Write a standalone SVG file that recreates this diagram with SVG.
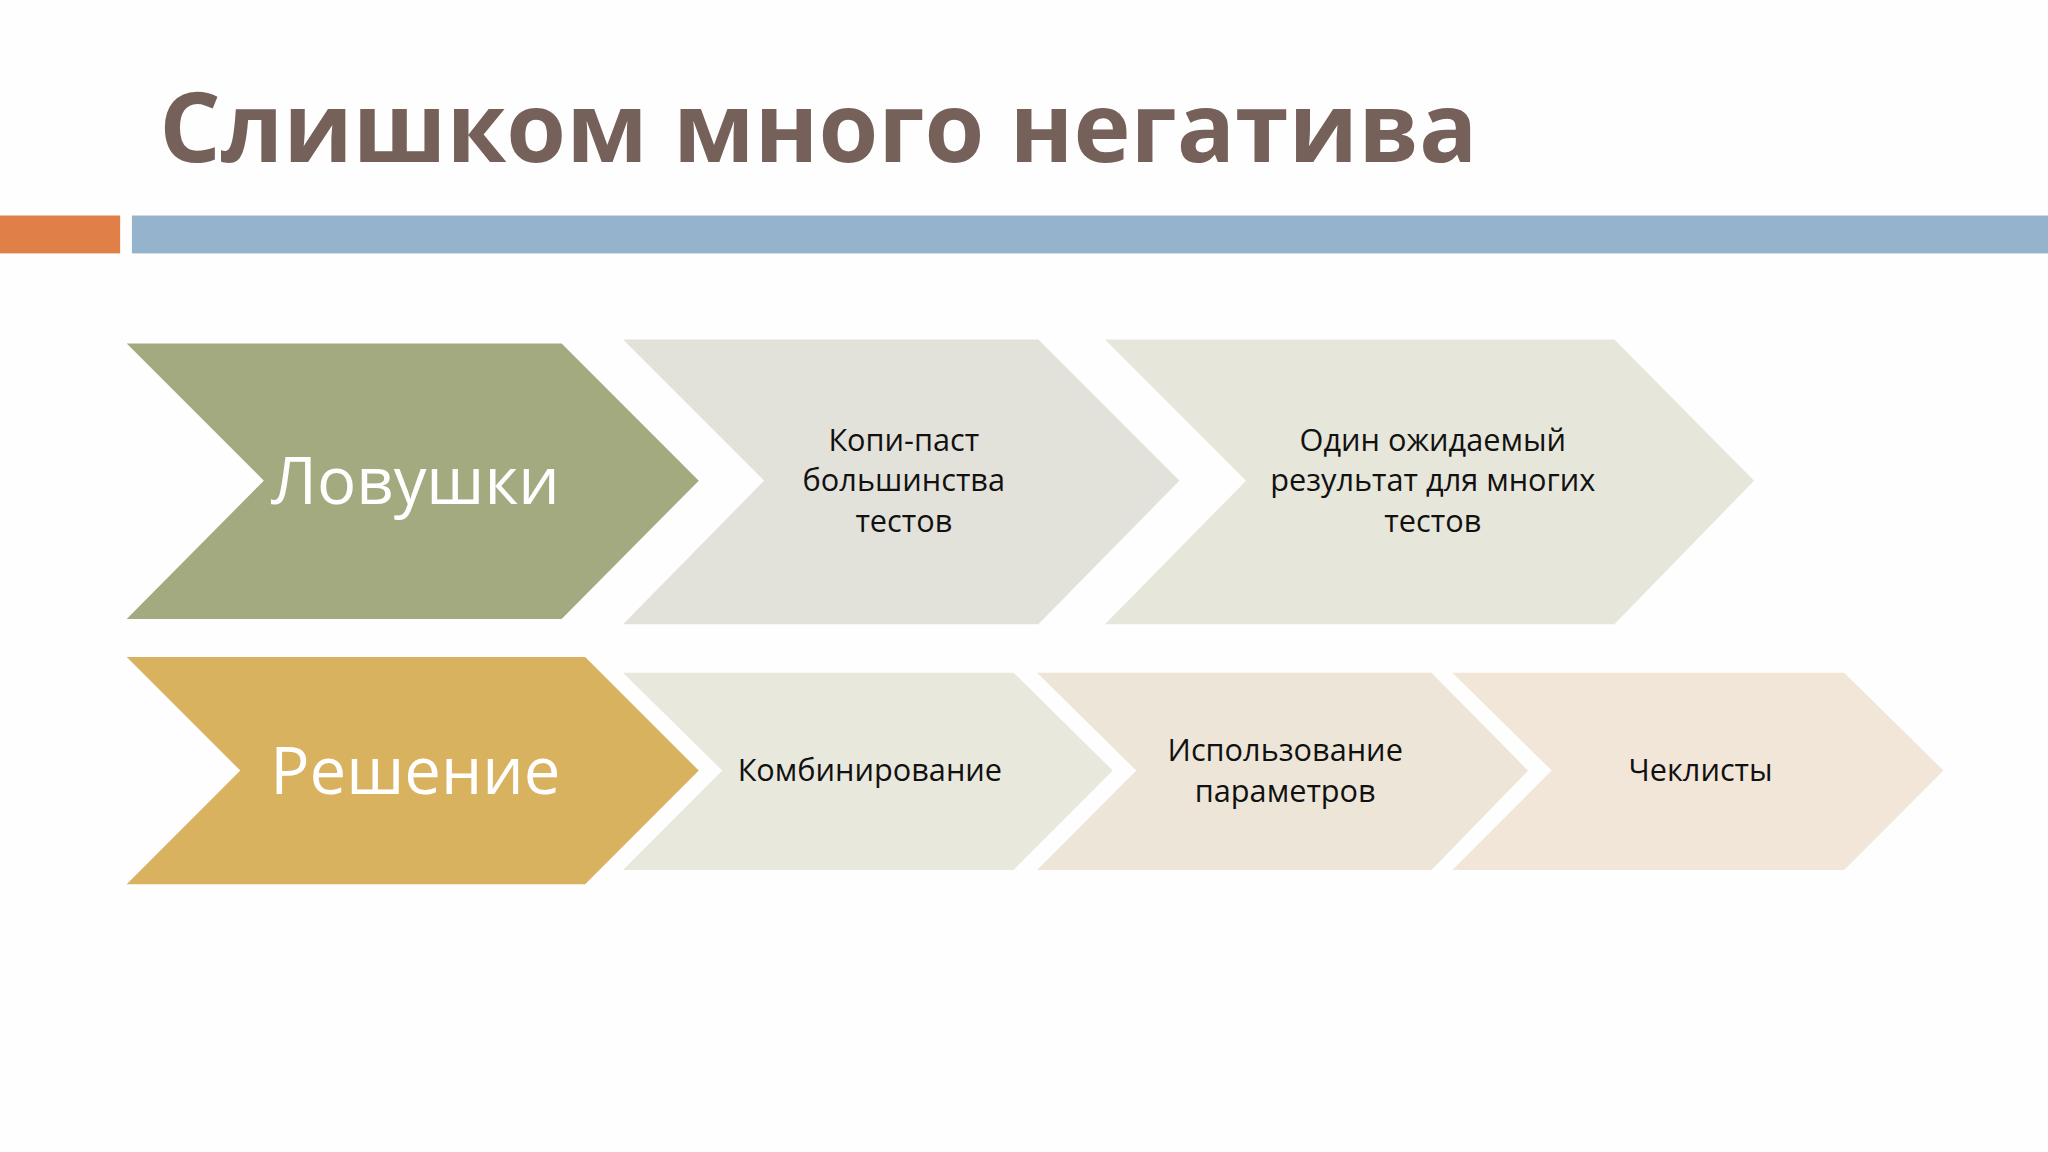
<svg xmlns="http://www.w3.org/2000/svg" width="2048" height="1152" viewBox="0 0 2048 1152">
<style>
text{font-family:"Open Sans","Noto Sans",sans-serif;text-anchor:middle}
.big{font-size:50px;fill:#fff}
.sm{font-size:23.5px;fill:#111}
</style>
<rect width="2048" height="1152" fill="#fefefe"/>
<g transform="scale(1.30612)">
<text x="122" y="124" style="text-anchor:start;font-size:74px;font-weight:bold;fill:#76615A">Слишком много негатива</text>
<rect x="0" y="165" width="92" height="29" fill="#E07F47"/>
<rect x="101" y="165" width="1467" height="29" fill="#96B3CE"/>
<g id="n1"><polygon points="97,263 430,263 535,368 430,474 97,474 202,368" fill="#A4AA80"/><text class="big" x="318" y="386">Ловушки</text></g>
<g id="n2"><polygon points="477,260 795,260 903,368 795,478 477,478 585,368" fill="#E3E2DA"/><text class="sm" x="692" y="345">Копи-паст</text><text class="sm" x="692" y="376">большинства</text><text class="sm" x="692" y="407">тестов</text></g>
<g id="n3"><polygon points="846,260 1236,260 1343,368 1236,478 846,478 954,368" fill="#E7E6DA"/><text class="sm" x="1097" y="345">Один ожидаемый</text><text class="sm" x="1097" y="376">результат для многих</text><text class="sm" x="1097" y="407">тестов</text></g>
<g id="n4"><polygon points="97,503 448,503 535,590 448,677 97,677 184,590" fill="#D8B25E"/><text class="big" x="318" y="608">Решение</text></g>
<g id="n5"><polygon points="477,515 776,515 852,590 776,666 477,666 553,590" fill="#E9E8DC"/><text class="sm" x="666" y="598">Комбинирование</text></g>
<g id="n6"><polygon points="794,515 1096,515 1170,590 1096,666 794,666 870,590" fill="#EDE6D8"/><text class="sm" x="984" y="583">Использование</text><text class="sm" x="984" y="614">параметров</text></g>
<g id="n7"><polygon points="1112,515 1412,515 1488,590 1412,666 1112,666 1188,590" fill="#F1E6D8"/><text class="sm" x="1302" y="598">Чеклисты</text></g>
<g id="connectors"/>
</g>
</svg>
